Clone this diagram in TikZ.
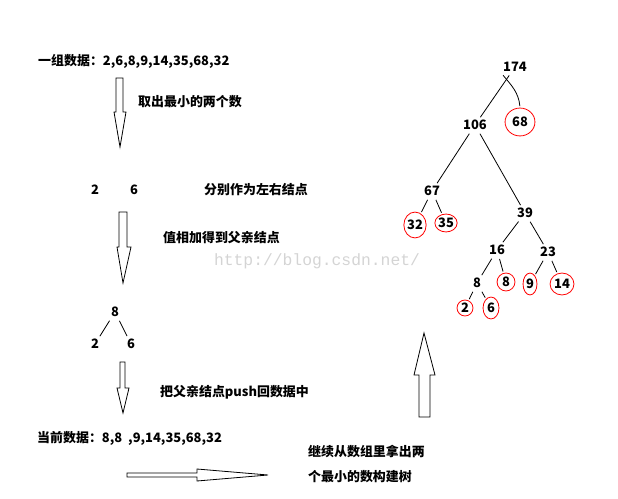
\documentclass[tikz,border=0pt]{standalone}
\usepackage{fontspec}
\setmainfont{Noto Sans CJK SC}
\newfontfamily\webfont{Liberation Mono}
\usepackage{tikz}
\usetikzlibrary{shapes.geometric, positioning}
\newcommand*\cn{\fontsize{13}{15}\selectfont\bfseries}
\tikzstyle{txt} = [anchor=west, inner sep=0pt, font=\cn]
\tikzstyle{num} = [inner sep=1.5pt, font=\cn]
\tikzstyle{leaf} = [ellipse, draw=red, line width=0.8bp, inner sep=0pt, font=\cn]
\tikzstyle{edge} = [line width=0.8bp, shorten <=2.5bp, shorten >=1.5bp]
\tikzstyle{hollow} = [draw=black, fill=white, line width=0.8bp]

\begin{document}
\begin{tikzpicture}[x=1bp, y=-1bp]
  \useasboundingbox (0,0) rectangle (618,499);

  % Watermark
  \node (web) [text=black!17, font=\webfont\fontsize{16.4}{18}\selectfont] at (317,261) {http://blog.csdn.net/};

  % Steps on the left
  \node (title) [txt] at (38,61) {一组数据：2,6,8,9,14,35,68,32};
  \node (take) [txt] at (138,102) {取出最小的两个数};
  \node (a2) [num] at (95,190) {2};
  \node (a6) [num] at (134,190) {6};
  \node (split) [txt] at (204,190) {分别作为左右结点};
  \node (sum) [txt] at (163,238) {值相加得到父亲结点};
  \node (p8) [num] at (115,312) {8};
  \node (b2) [num] at (95,344) {2};
  \node (b6) [num] at (131,344) {6};
  \node (push) [txt] at (160,392) {把父亲结点push回数据中};
  \node (now) [txt] at (37,438) {当前数据：8,8\ \ ,9,14,35,68,32};
  \node (more1) [txt] at (308,452) {继续从数组里拿出两};
  \node (more2) [txt] at (308,477) {个最小的数构建树};

  \draw[edge] (p8) -- (b2);
  \draw[edge] (p8) -- (b6);

  % Block arrows
  \draw[hollow] (116,78) -- (123,78) -- (123,112) -- (126,112) -- (120,147) -- (114,112) -- (116,112) -- cycle;
  \draw[hollow] (119,212) -- (127,212) -- (127,247) -- (131,247) -- (123,283) -- (117,247) -- (119,247) -- cycle;
  \draw[hollow] (120,362) -- (125,362) -- (125,388) -- (129,388) -- (123,413) -- (117,388) -- (120,388) -- cycle;
  \draw[hollow] (419,417) -- (430,417) -- (430,375) -- (435,375) -- (424,333) -- (414,375) -- (419,375) -- cycle;
  \draw[hollow] (127,473) -- (197,473) -- (197,469) -- (268,475) -- (197,481) -- (197,477) -- (127,477) -- cycle;

  % Tree
  \node (n174) [num] at (515,67) {174};
  \node (n106) [num] at (475,125) {106};
  \node (n68) [leaf, minimum width=30, minimum height=28] at (520,122) {68};
  \node (n67) [num] at (432,191) {67};
  \node (n39) [num] at (525,213) {39};
  \node (n32) [leaf, minimum width=22, minimum height=26] at (415,225) {32};
  \node (n35) [leaf, minimum width=22, minimum height=18] at (446,223) {35};
  \node (n16) [num] at (497,250) {16};
  \node (n23) [num] at (548,252) {23};
  \node (n8) [num] at (477,283) {8};
  \node (m8) [leaf, minimum width=18, minimum height=18] at (506,282) {8};
  \node (n9) [leaf, minimum width=14, minimum height=22] at (530,284) {9};
  \node (n14) [leaf, minimum width=24, minimum height=22] at (562,284) {14};
  \node (n2) [leaf, minimum width=16, minimum height=16] at (465,308) {2};
  \node (n6) [leaf, minimum width=16, minimum height=22] at (491,308) {6};

  \draw[edge] (n174) -- (n106);
  \draw[edge] (n174.south west) to[out=-50, in=95] (n68.north);
  \draw[edge] (n106) -- (n67);
  \draw[edge] (n106) -- (n39);
  \draw[edge] (n67) -- (n32);
  \draw[edge] (n67) -- (n35);
  \draw[edge] (n39) -- (n16);
  \draw[edge] (n39) -- (n23);
  \draw[edge] (n16) -- (n8);
  \draw[edge] (n16) -- (m8);
  \draw[edge] (n23) -- (n9);
  \draw[edge] (n23) -- (n14);
  \draw[edge] (n8) -- (n2);
  \draw[edge] (n8) -- (n6);

\end{tikzpicture}
\end{document}
